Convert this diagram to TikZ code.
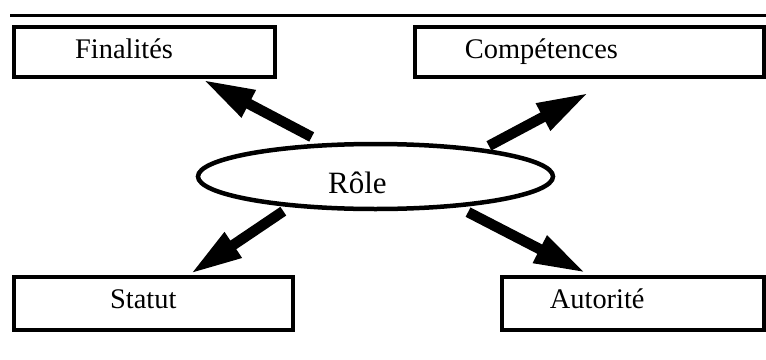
\documentclass[tikz,border=0pt]{standalone}
\usepackage{fontspec}
\setmainfont{Liberation Serif}
\usepackage{tikz}
\usetikzlibrary{arrows.meta}
\usetikzlibrary{shapes.geometric}
\begin{document}
\begin{tikzpicture}[x=1pt,y=-1pt]
\tikzstyle{box}=[draw,shape=rectangle,line width=4pt,inner sep=0pt,outer sep=0pt];
\tikzstyle{lbl}=[inner sep=0pt,anchor=base west,font=\fontsize{28.4}{34}\selectfont];
\tikzstyle{bigarrow}=[line width=10.5pt,-{Triangle[length=52pt,width=28pt]}];
\useasboundingbox (0,0) rectangle (766,359);
\draw[line width=3.5pt](10,15.5)--(766,15.5);
\node[box,minimum width=261.5pt,minimum height=50pt](fin) at (144.25,52) {};
\node[box,minimum width=349pt,minimum height=50pt](comp) at (589.5,52) {};
\node[box,minimum width=279pt,minimum height=53pt](stat) at (153,303.5) {};
\node[box,minimum width=262pt,minimum height=53pt](aut) at (633,303.5) {};
\node[draw,shape=ellipse,line width=4.5pt,inner sep=0pt,outer sep=0pt,minimum width=355pt,minimum height=65pt](role) at (375.5,176.5) {};
\node[lbl](fintxt) at (75,58) {Finalités};
\node[lbl](comptxt) at (464.7,58) {Compétences};
\node[lbl](stattxt) at (110,308) {Statut};
\node[lbl](auttxt) at (549.7,308) {Autorité};
\node[lbl,font=\fontsize{31}{36}\selectfont](roletxt) at (328,193) {Rôle};
\draw[bigarrow,shorten <=17.7pt,shorten >=5.6pt](role.147)--(fin.-25);
\draw[bigarrow,shorten <=9.5pt,shorten >=33.3pt](role.14)--(comp.-41.5);
\draw[bigarrow,shorten <=10.7pt,shorten >=5.4pt](role.199)--(stat.39);
\draw[bigarrow,shorten <=14.4pt,shorten >=8.7pt](role.-20)--(aut.146);
\end{tikzpicture}
\end{document}
